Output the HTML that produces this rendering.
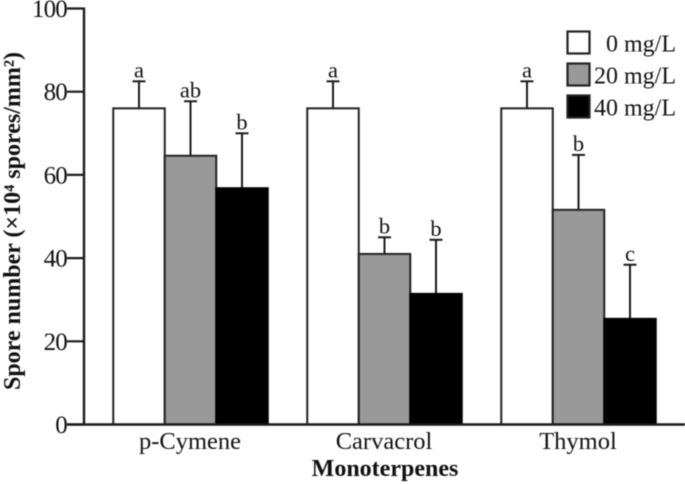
<!DOCTYPE html>
<html>
<head>
<meta charset="utf-8">
<title>Spore number by monoterpene</title>
<style>
html,body{margin:0;padding:0;background:#fff;width:685px;height:484px;overflow:hidden}
svg{display:block;font-family:"Liberation Serif",serif;filter:blur(.4px)}
</style>
</head>
<body>
<svg id="chart" width="685" height="484" viewBox="0 0 685 484" xmlns="http://www.w3.org/2000/svg"></svg>
<script>
const categories = ['p-Cymene', 'Carvacrol', 'Thymol'];
const seriesNames = ['0 mg/L', '20 mg/L', '40 mg/L'];
const tickLabels = [0, 20, 40, 60, 80, 100];
const values0 = [76, 76, 76];
const values20 = [64.6, 41, 51.6];
const values40 = [56.8, 31.4, 25.4];
const upper0 = [82.5, 82.5, 82.5];
const upper20 = [77.7, 45, 64.8];
const upper40 = [70, 44.4, 38.4];
const letters0 = ['a', 'a', 'a'];
const letters20 = ['ab', 'b', 'b'];
const letters40 = ['b', 'b', 'c'];

const NS = 'http://www.w3.org/2000/svg';
const svg = document.getElementById('chart');
const yScale = v => 424.5 - v * 4.16;
const groupCenter = i => 190.5 + i * 194;
const barWidth = 51.5;
const barX = (g, s) => groupCenter(g) + (s - 1.5) * barWidth;
const fills = ['#fff', '#999', '#000'];
const valueSets = [values0, values20, values40];
const upperSets = [upper0, upper20, upper40];
const letterSets = [letters0, letters20, letters40];

function make(tag, attrs, text) {
  const el = document.createElementNS(NS, tag);
  for (const k in attrs) el.setAttribute(k, attrs[k]);
  if (text !== undefined) el.textContent = text;
  svg.appendChild(el);
  return el;
}

categories.forEach((cat, g) => {
  [0, 1, 2].forEach(s => {
    const v = valueSets[s][g];
    const x = barX(g, s);
    const cx = x + barWidth / 2;
    const err = make('line', {x1: cx, x2: cx, y1: yScale(v), y2: yScale(upperSets[s][g]), stroke: '#1a1a1a', 'stroke-width': 2});
    
    
    const cap = make('line', {x1: cx - 6.5, x2: cx + 6.5, y1: yScale(upperSets[s][g]), y2: yScale(upperSets[s][g]), stroke: '#1a1a1a', 'stroke-width': 2});
    
    
    const bar = make('rect', {x: x, y: yScale(v), width: barWidth, height: yScale(0) - yScale(v), fill: fills[s], stroke: s === 2 ? '#000' : '#222', 'stroke-width': 2});
    
    
    const letter = make('text', {x: cx, y: yScale(upperSets[s][g]) - 4, 'text-anchor': 'middle', 'font-size': 22.5, fill: '#111'}, letterSets[s][g]);
    
    
  });
  const label = make('text', {x: groupCenter(g) - 0.5, y: 449, 'text-anchor': 'middle', 'font-size': 24.5, fill: '#111'}, cat);
  
  
});

const yAxis = make('line', {x1: 84, x2: 84, y1: yScale(100) - 1, y2: yScale(0) + 1, stroke: '#1a1a1a', 'stroke-width': 2.4});


const xAxis = make('line', {x1: 67, x2: 685, y1: yScale(0), y2: yScale(0), stroke: '#1a1a1a', 'stroke-width': 2.4});



tickLabels.forEach(t => {
  const tick = make('line', {x1: 67, x2: 84, y1: yScale(t), y2: yScale(t), stroke: '#1a1a1a', 'stroke-width': 2.2});
  
  
  const lab = make('text', {x: 67, y: yScale(t) + 8.5, 'text-anchor': 'end', 'font-size': 25, 'letter-spacing': -0.8, fill: '#111'}, t);
  
  
});

const yTitle = make('text', {transform: 'translate(20,221) rotate(-90)', 'text-anchor': 'middle', 'font-size': 24, 'font-weight': 'bold', fill: '#111'}, 'Spore number (×10⁴ spores/mm²)');


const xTitle = make('text', {x: 385, y: 476, 'text-anchor': 'middle', 'font-size': 24, 'font-weight': 'bold', fill: '#111'}, 'Monoterpenes');



seriesNames.forEach((name, s) => {
  const top = 31.5 + s * 32;
  const swatch = make('rect', {x: 567.5, y: top, width: 22, height: 22, fill: fills[s], stroke: '#222', 'stroke-width': 2.2});
  
  
  const txt = make('text', {x: 676, y: top + 20, 'text-anchor': 'end', 'font-size': 24, fill: '#111'}, name);
  
  
});
</script>
</body>
</html>
